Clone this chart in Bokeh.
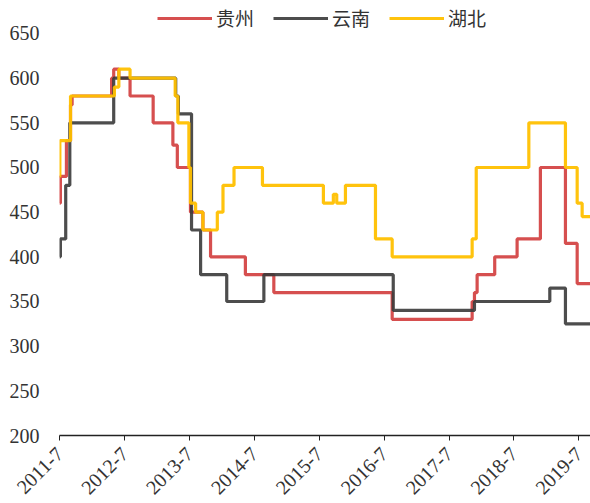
import pandas as pd
from bokeh.plotting import figure
from bokeh.models import FixedTicker, Range1d, Legend, LegendItem
from bokeh.embed import file_html
from bokeh.resources import INLINE

# Price change dates and levels (step series) for three provinces
guizhou_dates = ["2011-07-01", "2011-07-06", "2011-08-09", "2011-09-01", "2011-09-10",
                 "2012-04-19", "2012-05-01", "2012-05-30", "2012-08-01", "2012-12-09",
                 "2013-03-30", "2013-04-24", "2013-07-07", "2013-09-15", "2013-10-28",
                 "2014-05-12", "2014-10-19", "2016-08-15", "2017-11-08", "2017-11-21",
                 "2017-12-06", "2018-03-15", "2018-07-19", "2018-11-27", "2019-04-17",
                 "2019-06-22"]
guizhou_vals = [460, 490, 530, 570, 580,
                600, 610, 600, 580, 550,
                525, 500, 450, 430, 400,
                380, 360, 330, 350, 360,
                380, 400, 420, 500, 415,
                370]

yunnan_dates = ["2011-07-01", "2011-07-06", "2011-08-05", "2011-08-28", "2012-05-01",
                "2013-04-15", "2013-04-30", "2013-07-13", "2013-09-02", "2014-01-27",
                "2014-08-24", "2016-08-21", "2017-11-21", "2019-01-19", "2019-04-17"]
yunnan_vals = [400, 420, 480, 550, 600,
               580, 560, 430, 380, 350,
               380, 340, 350, 365, 325]

hubei_dates = ["2011-07-01", "2011-07-03", "2011-09-01", "2012-05-05", "2012-05-30",
               "2012-08-01", "2013-04-12", "2013-04-27", "2013-06-28", "2013-07-07",
               "2013-08-05", "2013-09-15", "2013-12-05", "2014-01-06", "2014-03-09",
               "2014-08-16", "2015-07-25", "2015-09-19", "2015-10-08", "2015-11-26",
               "2016-05-13", "2016-08-15", "2017-11-08", "2017-12-01", "2018-09-23",
               "2019-04-17", "2019-06-22", "2019-07-20"]
hubei_vals = [490, 530, 580, 590, 610,
              600, 580, 550, 500, 460,
              450, 430, 450, 480, 500,
              480, 460, 470, 460, 480,
              420, 400, 420, 500, 550,
              500, 460, 445]

end_date = "2019-09-05"
tick_years = list(range(2011, 2020))
tick_labels = [f"{y}-7" for y in tick_years]
y_ticks = [200, 250, 300, 350, 400, 450, 500, 550, 600, 650]

origin = pd.Timestamp("2011-07-01")


def to_days(dates):
    return [(pd.Timestamp(d) - origin).days for d in dates]


def step_xy(dates, vals):
    xs = to_days(list(dates) + [end_date])
    ys = list(vals) + [vals[-1]]
    return xs, ys


tick_pos = to_days([f"{y}-07-01" for y in tick_years])

# frame reaches above the top tick so the legend sits inside it
p = figure(width=590, height=503, output_backend="svg", toolbar_location=None,
           x_range=Range1d(0, to_days([end_date])[0]), y_range=Range1d(200, 681.3),
           min_border_left=59, min_border_right=0, min_border_top=5,
           min_border_bottom=67)
p.outline_line_color = None
p.xgrid.visible = False
p.ygrid.visible = False
p.background_fill_color = "white"
p.border_fill_color = "white"

LW = 3.2
xs, ys = step_xy(guizhou_dates, guizhou_vals)
r_gz = p.step(xs, ys, mode="after", line_color="#D13C3C", line_width=LW, line_alpha=0.9)
xs, ys = step_xy(yunnan_dates, yunnan_vals)
r_yn = p.step(xs, ys, mode="after", line_color="#3A3A3A", line_width=LW, line_alpha=0.9)
xs, ys = step_xy(hubei_dates, hubei_vals)
r_hb = p.step(xs, ys, mode="after", line_color="#FFC000", line_width=LW, line_alpha=0.95)

# x axis
xa = p.xaxis[0]
xa.ticker = FixedTicker(ticks=tick_pos)
xa.major_label_overrides = {t: lab for t, lab in zip(tick_pos, tick_labels)}
xa.major_label_orientation = 0.785398
xa.minor_tick_line_color = None
xa.major_tick_in = 0
xa.major_tick_out = 5
xa.axis_line_color = "#222222"
xa.major_tick_line_color = "#222222"
xa.axis_line_width = 1.3
xa.major_label_text_font = "Liberation Serif"
xa.major_label_text_font_size = "20px"
xa.major_label_text_color = "#333333"
xa.major_label_standoff = 10

# y axis
ya = p.yaxis[0]
ya.ticker = FixedTicker(ticks=y_ticks)
ya.axis_line_color = None
ya.major_tick_line_color = None
ya.minor_tick_line_color = None
ya.major_label_text_font = "Liberation Serif"
ya.major_label_text_font_size = "20px"
ya.major_label_text_color = "#333333"
ya.major_label_standoff = 14

legend = Legend(items=[LegendItem(label="贵州", renderers=[r_gz]),
                       LegendItem(label="云南", renderers=[r_yn]),
                       LegendItem(label="湖北", renderers=[r_hb])],
                orientation="horizontal", location=(98, 404),
                glyph_width=55, glyph_height=22, label_height=22,
                label_standoff=4, spacing=19, padding=0, margin=0,
                label_text_font="Noto Sans CJK SC", label_text_font_size="19px",
                label_text_color="#333333",
                border_line_alpha=0, background_fill_alpha=0)
p.add_layout(legend, "center")

open("out.html", "w").write(file_html(p, INLINE))
